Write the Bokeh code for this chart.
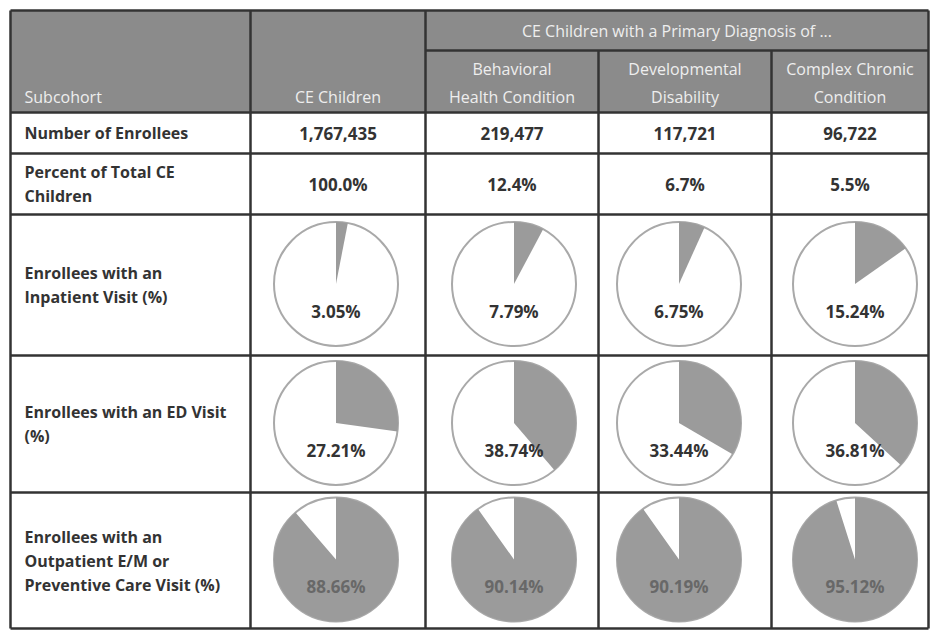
import math
from bokeh.plotting import figure
from bokeh.models import Range1d, ColumnDataSource
from bokeh.core.properties import value
from bokeh.embed import file_html
from bokeh.resources import INLINE

# ---- data ----
subcohorts = ["CE Children", "Behavioral\nHealth Condition", "Developmental\nDisability",
              "Complex Chronic\nCondition"]
group_header = "CE Children with a Primary Diagnosis of ..."
row_labels = ["Number of Enrollees", "Percent of Total CE\nChildren",
              "Enrollees with an\nInpatient Visit (%)", "Enrollees with an ED Visit\n(%)",
              "Enrollees with an\nOutpatient E/M or\nPreventive Care Visit (%)"]
enrollees = [1767435, 219477, 117721, 96722]
pct_total = [100.0, 12.4, 6.7, 5.5]
inpatient = [3.05, 7.79, 6.75, 15.24]
ed_visit = [27.21, 38.74, 33.44, 36.81]
outpatient = [88.66, 90.14, 90.19, 95.12]

# ---- layout (pixels from top-left) ----
W, H = 936, 631
cols = [10, 250, 425, 598, 771, 928]
rows = [10, 50, 112, 153, 214, 355, 492, 628]
FONT = value("Open Sans")
DARK = "#333333"
HDR_FILL = "#8b8b8b"
HDR_TXT = "#eeeeee"
PIE_GRAY = "#9b9b9b"


def Y(v):
    return H - v


p = figure(width=W, height=H, x_range=Range1d(0, W), y_range=Range1d(0, H),
           output_backend="svg", toolbar_location=None, min_border=0)
p.axis.visible = False
p.grid.visible = False
p.outline_line_color = None
p.background_fill_color = "white"
p.border_fill_color = "white"

# header background
p.quad(left=[cols[0]], right=[cols[-1]], top=[Y(rows[0])], bottom=[Y(rows[2])],
       fill_color=HDR_FILL, line_color=None)


def add_lines(x, yc, text, color, size, align="center", bold=True, lh=24):
    lines = text.split("\n")
    n = len(lines)
    ys = [yc + (i - (n - 1) / 2) * lh for i in range(n)]
    p.text(x=[x] * n, y=[Y(v) for v in ys], text=lines, text_font=FONT,
           text_font_size=size, text_font_style="bold" if bold else "normal",
           text_color=color, text_align=align, text_baseline="middle")


# header texts
HS = "16px"
add_lines(24, 96, "Subcohort", HDR_TXT, HS, align="left", bold=False)
add_lines((cols[1] + cols[2]) / 2, 96, subcohorts[0], HDR_TXT, HS, bold=False)
add_lines((cols[2] + cols[-1]) / 2, 30, group_header, HDR_TXT, HS, bold=False)
for i in range(1, 4):
    cx = (cols[i + 1] + cols[i + 2]) / 2
    add_lines(cx, 82, subcohorts[i], HDR_TXT, HS, bold=False, lh=28)

# row labels
for r, lab in enumerate(row_labels):
    yc = (rows[r + 2] + rows[r + 3]) / 2
    add_lines(24, yc, lab, DARK, "16px", align="left")

# number rows
VS = "17px"
for c in range(4):
    cx = (cols[c + 1] + cols[c + 2]) / 2
    add_lines(cx, (rows[2] + rows[3]) / 2, f"{enrollees[c]:,}", DARK, VS)
    add_lines(cx, (rows[3] + rows[4]) / 2, f"{pct_total[c]:.1f}%", DARK, VS)

# pies
R = 62
pie_rows = [inpatient, ed_visit, outpatient]
pie_x_off = [-2, 2, -6, 5]
for k, vals in enumerate(pie_rows):
    yc = (rows[4 + k] + rows[5 + k]) / 2 - 1
    xs = [(cols[c + 1] + cols[c + 2]) / 2 + pie_x_off[c] for c in range(4)]
    src = ColumnDataSource(dict(
        x=xs, y=[Y(yc)] * 4,
        start=[math.pi / 2] * 4,
        end=[math.pi / 2 - v / 100 * 2 * math.pi for v in vals],
        lab=[f"{v:.2f}%" for v in vals],
    ))
    p.circle(x="x", y="y", radius=R, source=src, fill_color="white",
             line_color="#a9a9a9", line_width=2)
    p.wedge(x="x", y="y", radius=R, start_angle="start", end_angle="end",
            direction="clock", source=src, fill_color=PIE_GRAY, line_color=None)
    p.text(x="x", y=Y(yc + 27), text="lab", source=src, text_font=FONT,
           text_font_size=VS, text_font_style="bold",
           text_color="#333333" if k < 2 else "#686868",
           text_align="center", text_baseline="middle")

# grid lines
lw = 2.5
hl_x0 = [cols[0]] * 6 + [cols[2]]
hl_x1 = [cols[-1]] * 7
hl_y = [rows[0], rows[2], rows[3], rows[4], rows[5], rows[6], rows[1]]
for x0, x1, yv in zip(hl_x0, hl_x1, hl_y):
    p.line([x0, x1], [Y(yv), Y(yv)], line_color=DARK, line_width=lw)
p.line([cols[0], cols[-1]], [Y(rows[7]), Y(rows[7])], line_color=DARK, line_width=lw)
for i, xv in enumerate(cols):
    top = rows[1] if i in (3, 4) else rows[0]
    p.line([xv, xv], [Y(top), Y(rows[7])], line_color=DARK, line_width=lw)

html = file_html(p, INLINE)
open("out.html", "w").write(html)
